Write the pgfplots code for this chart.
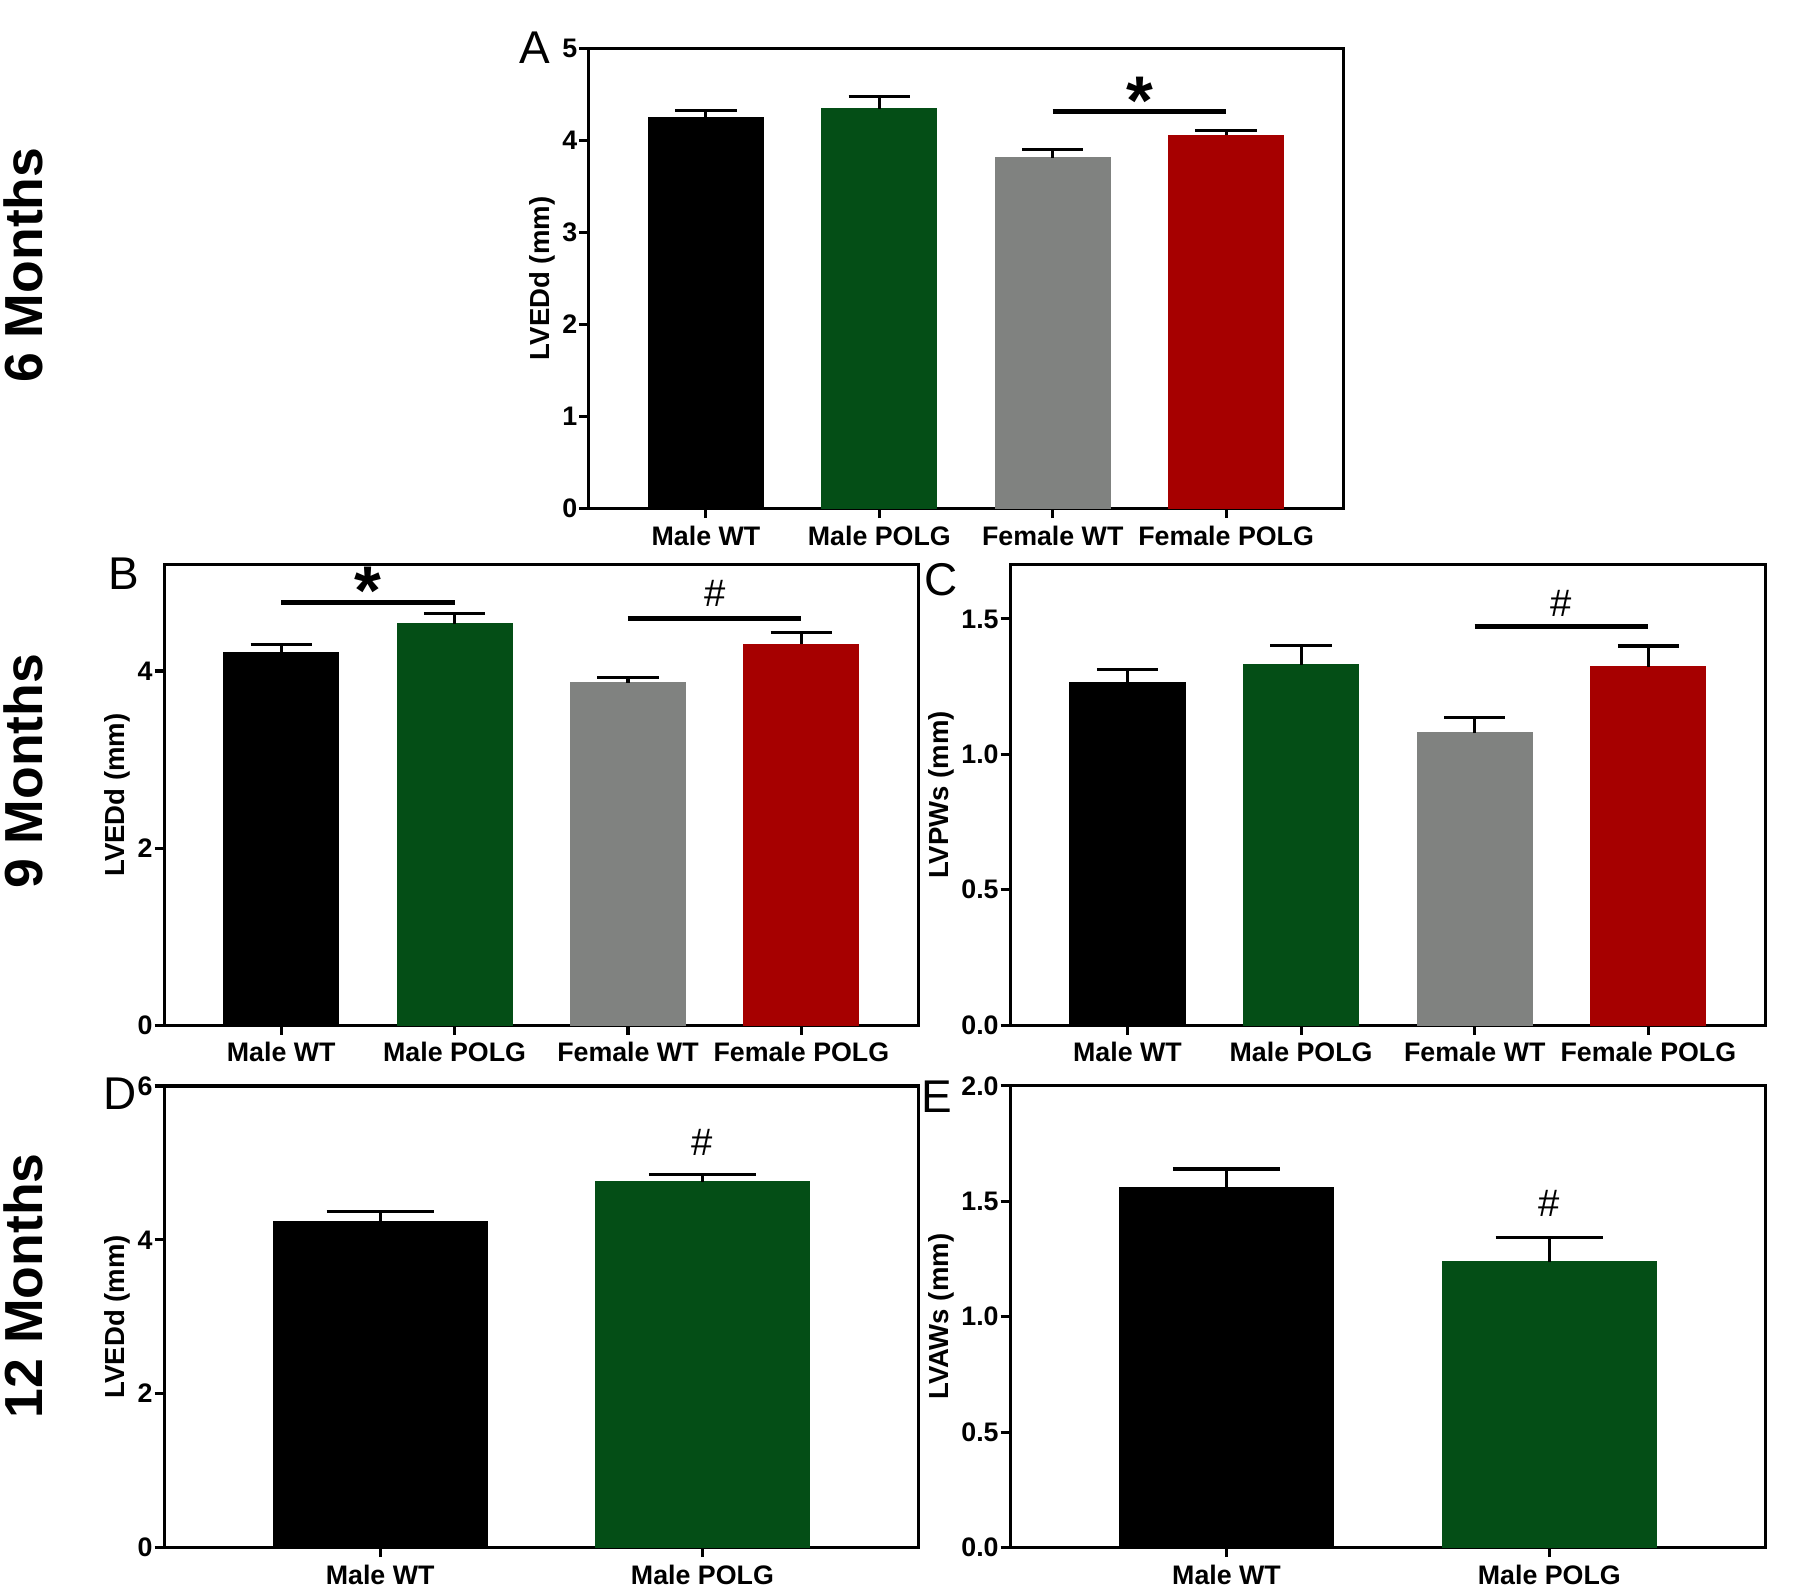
\documentclass[border=0pt]{standalone}
\usepackage{pgfplots}
\pgfplotsset{compat=1.18}
\usepackage{fontspec}
\setmainfont{Liberation Sans}
\definecolor{cblack}{RGB}{0,0,0}
\definecolor{cgreen}{RGB}{4,78,22}
\definecolor{cgray}{RGB}{128,130,128}
\definecolor{cred}{RGB}{166,0,0}
\pgfplotsset{
  panel/.style={
    scale only axis,
    anchor=south west,
    ybar, bar shift=0pt,
    axis line style={line width=0.8pt},
    major tick style={line width=0.8pt, black},
    major tick length=2.5pt,
    tick align=outside,
    xtick pos=lower, ytick pos=left,
    ymin=0,
    /pgf/number format/assume math mode=true,
    tick label style={font=\bfseries\fontsize{7}{8}\selectfont},
    ylabel style={font=\bfseries\fontsize{7.2}{8}\selectfont},
    ylabel shift=-5pt,
    xticklabel style={yshift=1.5pt},
    yticklabel style={xshift=3pt},
    clip=false,
  },
  four/.style={xmin=-0.675, xmax=3.675, xtick={0,1,2,3}, bar width=0.66,
    xticklabels={Male WT, Male POLG, Female WT, Female POLG}},
  two/.style={xmin=-0.67, xmax=1.67, xtick={0,1}, bar width=0.662,
    xticklabels={Male WT, Male POLG}},
  eb/.style={error bars/.cd, y dir=plus, y explicit,
    error bar style={line width=0.8pt, black},
    error mark options={rotate=90, mark size=#1, line width=0.8pt, black}},
  eb/.default=8pt,
}
\tikzset{
  sig/.style={line width=1.3pt},
  star/.style={font=\bfseries\fontsize{18}{18}\selectfont, inner sep=0pt, yshift=-2.8pt},
  hash/.style={font=\fontsize{10}{10}\selectfont, inner sep=0pt},
}
\begin{document}
\begin{tikzpicture}
\path[use as bounding box] (0,0) rectangle (470.4pt,416.7pt);

% Panel A
\begin{axis}[panel, four, at={(153.9pt,283.8pt)}, width=197.1pt, height=120.3pt,
  ymax=5, ytick={0,1,2,3,4,5}, ylabel={LVEDd (mm)}]
\addplot[fill=cblack, draw=cblack, eb] coordinates {(0,4.246) +- (0,0.074)};
\addplot[fill=cgreen, draw=cgreen, eb] coordinates {(1,4.34) +- (0,0.135)};
\addplot[fill=cgray, draw=cgray, eb] coordinates {(2,3.81) +- (0,0.085)};
\addplot[fill=cred, draw=cred, eb] coordinates {(3,4.054) +- (0,0.056)};
\draw[sig] (axis cs:2,4.31) -- (axis cs:3,4.31);
\node[star] at (axis cs:2.5,4.55) {*};
\end{axis}

% Panel B
\begin{axis}[panel, four, at={(42.9pt,148.8pt)}, width=197.1pt, height=120.3pt,
  ymax=5.2, ytick={0,2,4}, ylabel={LVEDd (mm)}]
\addplot[fill=cblack, draw=cblack, eb] coordinates {(0,4.21) +- (0,0.09)};
\addplot[fill=cgreen, draw=cgreen, eb] coordinates {(1,4.536) +- (0,0.114)};
\addplot[fill=cgray, draw=cgray, eb] coordinates {(2,3.87) +- (0,0.06)};
\addplot[fill=cred, draw=cred, eb] coordinates {(3,4.30) +- (0,0.14)};
\draw[sig] (axis cs:0,4.77) -- (axis cs:1,4.77);
\node[star] at (axis cs:0.5,5.03) {*};
\draw[sig] (axis cs:2,4.59) -- (axis cs:3,4.59);
\node[hash] at (axis cs:2.5,4.88) {\#};
\end{axis}

% Panel C
\begin{axis}[panel, four, at={(264pt,148.8pt)}, width=197.4pt, height=120.3pt,
  ymax=1.7, ytick={0,0.5,1,1.5}, ylabel={LVPWs (mm)},
  yticklabel style={/pgf/number format/.cd, fixed, fixed zerofill, precision=1}]
\addplot[fill=cblack, draw=cblack, eb] coordinates {(0,1.266) +- (0,0.046)};
\addplot[fill=cgreen, draw=cgreen, eb] coordinates {(1,1.329) +- (0,0.072)};
\addplot[fill=cgray, draw=cgray, eb] coordinates {(2,1.078) +- (0,0.057)};
\addplot[fill=cred, draw=cred, eb] coordinates {(3,1.323) +- (0,0.077)};
\draw[sig] (axis cs:2,1.471) -- (axis cs:3,1.471);
\node[hash] at (axis cs:2.5,1.559) {\#};
\end{axis}

% Panel D
\begin{axis}[panel, two, at={(42.9pt,12.3pt)}, width=197.1pt, height=120.6pt,
  ymax=6, ytick={0,2,4,6}, ylabel={LVEDd (mm)}]
\addplot[fill=cblack, draw=cblack, eb=14pt] coordinates {(0,4.24) +- (0,0.125)};
\addplot[fill=cgreen, draw=cgreen, eb=14pt] coordinates {(1,4.75) +- (0,0.105)};
\node[hash] at (axis cs:1,5.27) {\#};
\end{axis}

% Panel E
\begin{axis}[panel, two, at={(264pt,12.3pt)}, width=197.4pt, height=120.6pt,
  ymax=2, ytick={0,0.5,1,1.5,2}, ylabel={LVAWs (mm)},
  yticklabel style={/pgf/number format/.cd, fixed, fixed zerofill, precision=1}]
\addplot[fill=cblack, draw=cblack, eb=14pt] coordinates {(0,1.557) +- (0,0.083)};
\addplot[fill=cgreen, draw=cgreen, eb=14pt] coordinates {(1,1.237) +- (0,0.105)};
\node[hash] at (axis cs:1,1.49) {\#};
\end{axis}

% Panel letters
\begin{scope}[every node/.style={font=\fontsize{12}{12}\selectfont, inner sep=0pt}]
\node at (139.8pt,404.1pt) {A};
\node at (32.4pt,266.7pt) {B};
\node at (246pt,265.2pt) {C};
\node at (31.5pt,130.8pt) {D};
\node at (244.8pt,130.2pt) {E};
\end{scope}

% Row labels
\begin{scope}[every node/.style={font=\bfseries\fontsize{14}{14}\selectfont, rotate=90, inner sep=0pt}]
\node at (6pt,347.4pt) {6 Months};
\node at (6pt,215.1pt) {9 Months};
\node at (6pt,80.7pt) {12 Months};
\end{scope}
\end{tikzpicture}
\end{document}
